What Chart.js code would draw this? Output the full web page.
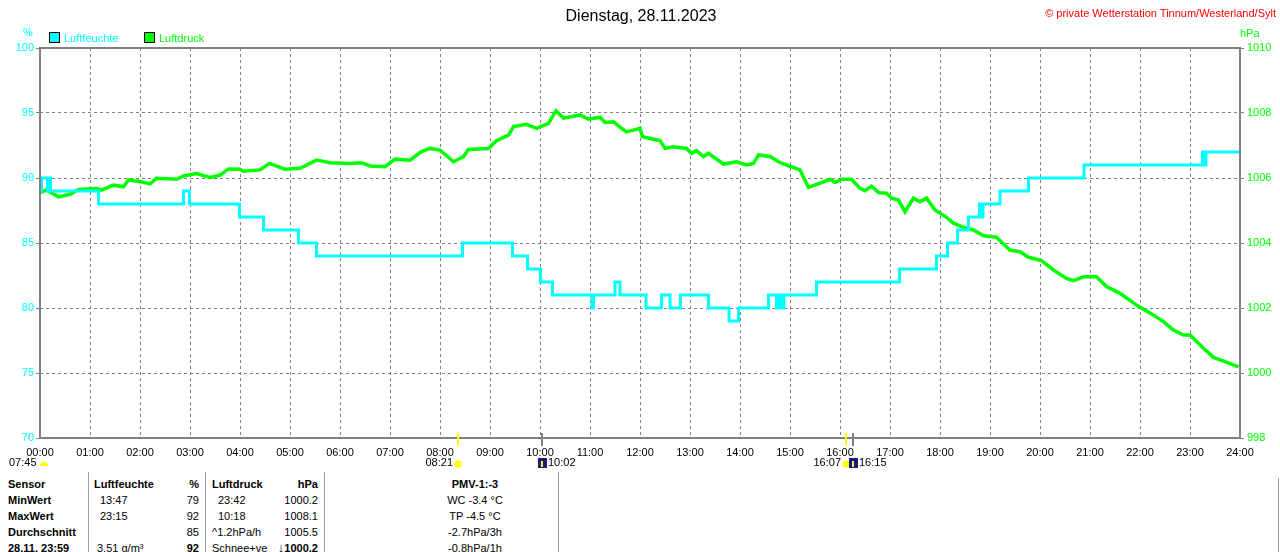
<!DOCTYPE html>
<html>
<head>
<meta charset="utf-8">
<script src="https://cdn.jsdelivr.net/npm/chart.js@4.4.0/dist/chart.umd.min.js"></script>
<style>
  body { margin: 0; background: #fff; font-family: "Liberation Sans", Arial, sans-serif; }
  #wrap { position: relative; width: 1280px; height: 552px; overflow: hidden; }
  #box { position: absolute; left: 0; top: 0; width: 1280px; height: 470px; }
  .t { position: absolute; font-size: 11px; line-height: 14px; white-space: nowrap; color: #000; }
  .b { font-weight: bold; }
  .r { text-align: right; }
  .vl { position: absolute; width: 1px; background: #a0a0a0; }
  .sq { position: absolute; width: 9px; height: 9px; border: 1px solid #000; }
</style>
</head>
<body>
<div id="wrap">
  <div id="box"><canvas id="chart"></canvas></div>

  <div class="t" style="left:0;width:1282px;text-align:center;top:6px;font-size:16px;line-height:19px;">Dienstag, 28.11.2023</div>
  <div class="t" style="right:4px;top:6px;color:#ff0000;">&copy; private Wetterstation Tinnum/Westerland/Sylt</div>

  <div class="t" style="left:23px;top:25px;color:#00ffff;">%</div>
  <div class="t" style="left:1240px;top:26px;color:#00ff00;">hPa</div>
  <div class="sq" style="left:49px;top:32px;background:#00ffff;"></div>
  <div class="t" style="left:64px;top:31px;color:#00ffff;">Luftfeuchte</div>
  <div class="sq" style="left:144px;top:32px;background:#00ff00;"></div>
  <div class="t" style="left:159px;top:31px;color:#00ff00;">Luftdruck</div>

  <!-- Tabelle -->
  <div class="vl" style="left:88px;top:472px;height:80px;"></div>
  <div class="vl" style="left:205px;top:472px;height:80px;"></div>
  <div class="vl" style="left:324px;top:472px;height:80px;"></div>
  <div class="vl" style="left:558px;top:472px;height:80px;"></div>
  <div class="vl" style="left:1278px;top:478px;height:74px;"></div>

  <div class="t b" style="left:8px;top:477px;">Sensor</div>
  <div class="t b" style="left:8px;top:493px;">MinWert</div>
  <div class="t b" style="left:8px;top:509px;">MaxWert</div>
  <div class="t b" style="left:8px;top:525px;">Durchschnitt</div>
  <div class="t b" style="left:8px;top:541px;">28.11. 23:59</div>

  <div class="t b" style="left:94px;top:477px;">Luftfeuchte</div>
  <div class="t b r" style="left:150px;width:49px;top:477px;">%</div>
  <div class="t" style="left:100px;top:493px;">13:47</div>
  <div class="t r" style="left:150px;width:49px;top:493px;">79</div>
  <div class="t" style="left:100px;top:509px;">23:15</div>
  <div class="t r" style="left:150px;width:49px;top:509px;">92</div>
  <div class="t r" style="left:150px;width:49px;top:525px;">85</div>
  <div class="t" style="left:97px;top:541px;">3.51 g/m³</div>
  <div class="t b r" style="left:150px;width:49px;top:541px;">92</div>

  <div class="t b" style="left:212px;top:477px;">Luftdruck</div>
  <div class="t b r" style="left:270px;width:48px;top:477px;">hPa</div>
  <div class="t" style="left:218px;top:493px;">23:42</div>
  <div class="t r" style="left:270px;width:48px;top:493px;">1000.2</div>
  <div class="t" style="left:218px;top:509px;">10:18</div>
  <div class="t r" style="left:270px;width:48px;top:509px;">1008.1</div>
  <div class="t" style="left:212px;top:525px;">^1.2hPa/h</div>
  <div class="t r" style="left:270px;width:48px;top:525px;">1005.5</div>
  <div class="t" style="left:212px;top:541px;">Schnee+ve</div>
  <div class="t b r" style="left:262px;width:56px;top:541px;"><span style="font-size:13px;">&#8595;</span>1000.2</div>

  <div class="t b" style="left:400px;width:150px;text-align:center;top:477px;">PMV-1:-3</div>
  <div class="t" style="left:400px;width:150px;text-align:center;top:493px;">WC -3.4 °C</div>
  <div class="t" style="left:400px;width:150px;text-align:center;top:509px;">TP -4.5 °C</div>
  <div class="t" style="left:400px;width:150px;text-align:center;top:525px;">-2.7hPa/3h</div>
  <div class="t" style="left:400px;width:150px;text-align:center;top:541px;">-0.8hPa/1h</div>
</div>

<script>
// Stunden-Beschriftung der X-Achse
const hourLabels = [
  "00:00", "01:00", "02:00", "03:00", "04:00", "05:00", "06:00", "07:00",
  "08:00", "09:00", "10:00", "11:00", "12:00", "13:00", "14:00", "15:00",
  "16:00", "17:00", "18:00", "19:00", "20:00", "21:00", "22:00", "23:00", "24:00"
];

// Luftfeuchte (%) - Stufenwerte, Zeit in Stunden
const humTimes = [
  0.00, 0.03, 0.15, 0.18, 0.21, 1.17, 2.87, 2.99, 3.99, 4.47, 5.17, 5.53,
  8.45, 9.45, 9.75, 10.01, 10.25, 11.04, 11.07, 11.50, 11.60, 12.12, 12.43,
  12.60, 12.81, 13.37, 13.78, 13.97, 14.57, 14.73, 14.78, 14.83, 14.88,
  15.53, 17.19, 17.93, 18.15, 18.35, 18.57, 18.79, 18.82, 18.86, 19.20,
  19.77, 20.88, 23.25, 23.28, 23.32, 24.00
];
const humValues = [
  89, 90, 89, 90, 89, 88, 89, 88, 87, 86, 85, 84,
  85, 84, 83, 82, 81, 80, 81, 82, 81, 80, 81,
  80, 81, 80, 79, 80, 81, 80, 81, 80, 81,
  82, 83, 84, 85, 86, 87, 88, 87, 88, 89,
  90, 91, 92, 91, 92, 92
];

// Luftdruck (hPa)
const presTimes = [
  0.00, 0.13, 0.37, 0.60, 0.77, 1.13, 1.23, 1.47, 1.67, 1.77, 2.00, 2.20,
  2.33, 2.73, 2.87, 3.13, 3.40, 3.60, 3.77, 4.00, 4.07, 4.40, 4.59, 4.90,
  5.20, 5.53, 5.80, 6.20, 6.43, 6.60, 6.90, 7.10, 7.40, 7.63, 7.80, 8.00,
  8.27, 8.47, 8.57, 8.97, 9.13, 9.37, 9.47, 9.73, 9.93, 10.17, 10.32,
  10.47, 10.80, 10.97, 11.20, 11.30, 11.47, 11.63, 11.73, 12.00, 12.05,
  12.27, 12.40, 12.50, 12.67, 12.93, 13.03, 13.13, 13.27, 13.37, 13.67,
  13.93, 14.13, 14.27, 14.37, 14.60, 14.77, 14.93, 15.20, 15.37, 15.60,
  15.80, 15.90, 16.03, 16.23, 16.40, 16.50, 16.63, 16.77, 16.93, 17.03,
  17.17, 17.30, 17.47, 17.60, 17.73, 17.90, 18.13, 18.27, 18.47, 18.67,
  18.87, 19.13, 19.40, 19.60, 19.77, 20.03, 20.27, 20.53, 20.67, 20.87,
  21.13, 21.33, 21.60, 21.93, 22.27, 22.47, 22.67, 22.87, 23.00, 23.27,
  23.47, 23.70, 23.97
];
const presValues = [
  1005.55, 1005.63, 1005.42, 1005.50, 1005.65, 1005.68, 1005.63, 1005.78, 1005.73, 1005.94, 1005.89, 1005.82,
  1005.99, 1005.96, 1006.06, 1006.14, 1006.02, 1006.09, 1006.28, 1006.27, 1006.21, 1006.25, 1006.45, 1006.27,
  1006.30, 1006.55, 1006.47, 1006.45, 1006.47, 1006.37, 1006.35, 1006.58, 1006.55, 1006.81, 1006.91, 1006.86,
  1006.50, 1006.66, 1006.88, 1006.91, 1007.15, 1007.32, 1007.58, 1007.65, 1007.53, 1007.68, 1008.07,
  1007.84, 1007.94, 1007.81, 1007.87, 1007.71, 1007.73, 1007.53, 1007.42, 1007.53, 1007.27,
  1007.19, 1007.15, 1006.91, 1006.96, 1006.91, 1006.76, 1006.84, 1006.66, 1006.76, 1006.43,
  1006.50, 1006.40, 1006.45, 1006.71, 1006.66, 1006.50, 1006.40, 1006.25, 1005.71, 1005.84,
  1005.96, 1005.86, 1005.96, 1005.96, 1005.68, 1005.61, 1005.75, 1005.55, 1005.53, 1005.38,
  1005.32, 1004.96, 1005.38, 1005.27, 1005.38, 1005.02, 1004.79, 1004.61, 1004.48, 1004.40,
  1004.22, 1004.18, 1003.78, 1003.73, 1003.56, 1003.46, 1003.17, 1002.91, 1002.84, 1002.96,
  1002.96, 1002.66, 1002.45, 1002.09, 1001.78, 1001.58, 1001.32, 1001.17, 1001.17, 1000.76,
  1000.48, 1000.35, 1000.19
];

// Sonne/Mond Ereignisse an der Zeitachse
const eventTimes = [8.35, 10.033, 16.117, 16.25];
const eventLabels = ["08:21", "10:02", "16:07", "16:15"];
const eventKinds = ["sun", "moon", "sun", "moon"];

const COLOR = { hum: "#00ffff", pres: "#00ff00", grid: "#808080" };
const FONT = { family: "'Liberation Sans', Arial, sans-serif", size: 11 };

const toPoints = (xs, ys) => xs.map((x, i) => ({ x: x, y: ys[i] }));

// Rahmen + Ereignis-Marken
const extras = {
  id: "extras",
  afterDraw(chart) {
    const { ctx, chartArea: a, scales } = chart;
    ctx.save();
    ctx.strokeStyle = COLOR.grid;
    ctx.lineWidth = 2;
    ctx.strokeRect(a.left, a.top, a.right - a.left, a.bottom - a.top);

    ctx.font = "11px " + FONT.family;
    ctx.textBaseline = "middle";
    eventTimes.forEach((t, i) => {
      const px = Math.round(scales.x.getPixelForValue(t));
      if (eventKinds[i] === "sun") {
        ctx.fillStyle = "#ffff00";
        ctx.fillRect(px - 1, a.bottom - 5, 2, 13);
        ctx.beginPath();
        ctx.arc(px, 464, 3.5, 0, Math.PI * 2);
        ctx.fill();
        ctx.fillStyle = "#000";
        ctx.textAlign = "right";
        ctx.fillText(eventLabels[i], px - 5, 463);
      } else {
        ctx.fillStyle = "#808080";
        ctx.fillRect(px - 1, a.bottom - 5, 2, 13);
        ctx.fillStyle = "#1a1a80";
        ctx.fillRect(px - 4, 458, 9, 10);
        ctx.fillStyle = "#ffff00";
        ctx.fillRect(px - 1, 461, 2, 6);
        ctx.fillStyle = "#000";
        ctx.textAlign = "left";
        ctx.fillText(eventLabels[i], px + 6, 463);
      }
    });
    // Dämmerung links
    ctx.fillStyle = "#000";
    ctx.textAlign = "left";
    ctx.fillText("07:45", 9, 463);
    ctx.fillStyle = "#ffff00";
    ctx.beginPath();
    ctx.arc(44, 466, 4, Math.PI, 0);
    ctx.fill();
    ctx.restore();
  }
};

new Chart(document.getElementById("chart"), {
  type: "line",
  data: {
    datasets: [
      {
        label: "Luftfeuchte",
        data: toPoints(humTimes, humValues),
        yAxisID: "y",
        borderColor: COLOR.hum,
        backgroundColor: COLOR.hum,
        borderWidth: 3,
        stepped: true,
        pointRadius: 0,
      },
      {
        label: "Luftdruck",
        data: toPoints(presTimes, presValues),
        yAxisID: "y1",
        borderColor: COLOR.pres,
        backgroundColor: COLOR.pres,
        borderWidth: 3.5,
        pointRadius: 0,
      },
    ],
  },
  options: {
    responsive: true,
    maintainAspectRatio: false,
    animation: false,
    layout: { padding: { top: 48, left: 0, right: 0, bottom: 0 } },
    plugins: { legend: { display: false }, title: { display: false }, tooltip: { enabled: false } },
    scales: {
      x: {
        type: "linear",
        min: 0,
        max: 24,
        afterFit: (s) => { s.height = 32; },
        grid: { color: COLOR.grid, lineWidth: 1, drawTicks: false },
        border: { display: false, dash: [3, 3] },
        ticks: {
          stepSize: 1,
          padding: 8,
          color: "#000",
          font: FONT,
          maxRotation: 0,
          autoSkip: false,
          callback: (v) => hourLabels[v],
        },
      },
      y: {
        position: "left",
        min: 70,
        max: 100,
        afterFit: (s) => { s.width = 40; },
        grid: { color: COLOR.grid, lineWidth: 1, tickLength: 4 },
        border: { display: false, dash: [3, 3] },
        ticks: { stepSize: 5, padding: 2, color: COLOR.hum, font: FONT },
      },
      y1: {
        position: "right",
        min: 998,
        max: 1010,
        afterFit: (s) => { s.width = 40; },
        grid: { drawOnChartArea: false, color: COLOR.grid, tickLength: 4 },
        border: { display: false },
        ticks: { stepSize: 2, padding: 3, color: COLOR.pres, font: FONT, callback: (v) => String(v) },
      },
    },
  },
  plugins: [extras],
});
</script>
</body>
</html>
